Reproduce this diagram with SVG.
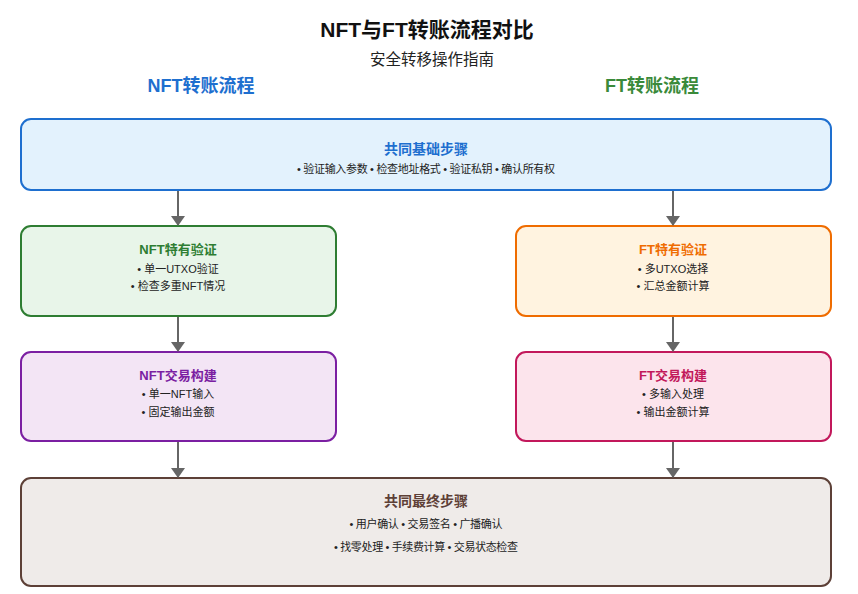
<svg xmlns="http://www.w3.org/2000/svg" width="858" height="594" viewBox="0 0 858 594">
<defs>
<marker id="ah" markerWidth="10" markerHeight="14" refX="9" refY="5" orient="auto" markerUnits="userSpaceOnUse" viewBox="0 0 10 10" preserveAspectRatio="none">
<path d="M0,0 L10,5 L0,10 Z" fill="#666"/>
</marker>
<style>
text{font-family:"Liberation Sans","Noto Sans CJK SC",sans-serif;text-anchor:middle;}
.title{font-size:21px;font-weight:bold;fill:#111;}
.sub{font-size:15.5px;fill:#222;}
.col{font-size:18px;font-weight:bold;}
.h{font-size:14px;font-weight:bold;}
.h2{font-size:13px;font-weight:bold;}
.t{font-size:11px;fill:#222;}
.box{stroke-width:2;}
.conn{stroke:#666;stroke-width:2;fill:none;}
</style>
</defs>
<rect width="858" height="594" fill="#fff"/>
<text class="title" x="427" y="37">NFT与FT转账流程对比</text>
<text class="sub" x="432" y="65">安全转移操作指南</text>
<text class="col" x="201" y="92" fill="#1e6fcf">NFT转账流程</text>
<text class="col" x="652" y="92" fill="#3a8a3a">FT转账流程</text>

<g id="common-base">
<rect class="box" x="21" y="119" width="810" height="71" rx="10" fill="#e3f2fd" stroke="#1e6fcf"/>
<text class="h" x="426" y="154" fill="#1e6fcf">共同基础步骤</text>
<text class="t" x="426" y="173" textLength="258">• 验证输入参数 • 检查地址格式 • 验证私钥 • 确认所有权</text>
</g>

<g id="nft-verify">
<rect class="box" x="21" y="226" width="315" height="90" rx="10" fill="#e8f5e9" stroke="#2e7d32"/>
<text class="h2" x="178" y="254" fill="#2e7d32">NFT特有验证</text>
<text class="t" x="178" y="273">• 单一UTXO验证</text>
<text class="t" x="178" y="290">• 检查多重NFT情况</text>
</g>

<g id="ft-verify">
<rect class="box" x="516" y="226" width="315" height="90" rx="10" fill="#fff3e0" stroke="#ef6c00"/>
<text class="h2" x="673" y="254" fill="#ef6c00">FT特有验证</text>
<text class="t" x="673" y="273">• 多UTXO选择</text>
<text class="t" x="673" y="290">• 汇总金额计算</text>
</g>

<g id="nft-build">
<rect class="box" x="21" y="352" width="315" height="89" rx="10" fill="#f3e5f5" stroke="#7b1fa2"/>
<text class="h2" x="178" y="380" fill="#7b1fa2">NFT交易构建</text>
<text class="t" x="178" y="398">• 单一NFT输入</text>
<text class="t" x="178" y="416">• 固定输出金额</text>
</g>

<g id="ft-build">
<rect class="box" x="516" y="352" width="315" height="89" rx="10" fill="#fce4ec" stroke="#c2185b"/>
<text class="h2" x="673" y="380" fill="#c2185b">FT交易构建</text>
<text class="t" x="673" y="398">• 多输入处理</text>
<text class="t" x="673" y="416">• 输出金额计算</text>
</g>

<g id="common-final">
<rect class="box" x="21" y="478" width="810" height="108" rx="10" fill="#efebe9" stroke="#5d4037"/>
<text class="h" x="426" y="506" fill="#5d4037">共同最终步骤</text>
<text class="t" x="426" y="528" textLength="153">• 用户确认 • 交易签名 • 广播确认</text>
<text class="t" x="426" y="551" textLength="184">• 找零处理 • 手续费计算 • 交易状态检查</text>
</g>

<g id="connectors">
<line class="conn" x1="178" y1="191" x2="178" y2="225" marker-end="url(#ah)"/>
<line class="conn" x1="673" y1="191" x2="673" y2="225" marker-end="url(#ah)"/>
<line class="conn" x1="178" y1="317" x2="178" y2="351" marker-end="url(#ah)"/>
<line class="conn" x1="673" y1="317" x2="673" y2="351" marker-end="url(#ah)"/>
<line class="conn" x1="178" y1="442" x2="178" y2="477" marker-end="url(#ah)"/>
<line class="conn" x1="673" y1="442" x2="673" y2="477" marker-end="url(#ah)"/>
</g>
</svg>
